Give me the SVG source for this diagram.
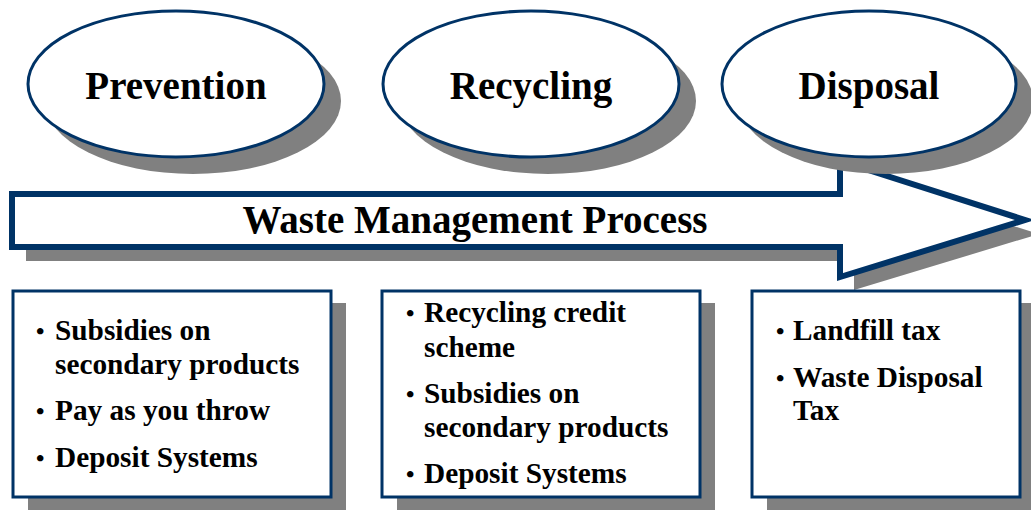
<svg xmlns="http://www.w3.org/2000/svg" width="1031" height="510" viewBox="0 0 1031 510">
<style>
.sh{fill:#808080;stroke:none}
.nd{fill:#fff;stroke:#003366;stroke-width:3}
.t{font-family:"Liberation Serif","Times New Roman",serif;font-weight:bold;fill:#000}
.h{font-size:39px;text-anchor:middle}
.b{font-size:29.3px}
.bu{font-size:24px}
</style>
<rect width="1031" height="510" fill="#fff"/>
<g id="arrow">
<path class="sh" d="M26,208 L854,208 L854,176 L1039,234 L854,290 L854,261 L26,261 Z"/>
<path d="M12,194 L840,194 L840,161 L1025,220 L840,277 L840,247 L12,247 Z" fill="#fff" stroke="#003366" stroke-width="6"/>
<text class="t h" x="475" y="233">Waste Management Process</text>
</g>
<g id="prevention">
<ellipse class="sh" cx="193" cy="101" rx="148" ry="73"/>
<ellipse class="nd" cx="176" cy="84" rx="148" ry="73"/>
<text class="t h" x="176" y="99">Prevention</text>
</g>
<g id="recycling">
<ellipse class="sh" cx="548" cy="101" rx="148" ry="73"/>
<ellipse class="nd" cx="531" cy="84" rx="148" ry="73"/>
<text class="t h" x="531" y="99">Recycling</text>
</g>
<g id="disposal">
<ellipse class="sh" cx="886" cy="101" rx="147" ry="73"/>
<ellipse class="nd" cx="869" cy="84" rx="147" ry="73"/>
<text class="t h" x="869" y="99">Disposal</text>
</g>
<g id="box-prevention">
<rect class="sh" x="28" y="303" width="318" height="207"/>
<rect class="nd" x="13" y="291" width="318" height="206"/>
<text class="t b"><tspan class="bu" x="36" y="339">•</tspan><tspan x="55" y="340">Subsidies on</tspan><tspan x="55" y="374">secondary products</tspan><tspan class="bu" x="36" y="419">•</tspan><tspan x="55" y="420">Pay as you throw</tspan><tspan class="bu" x="36" y="466">•</tspan><tspan x="55" y="467">Deposit Systems</tspan></text>
</g>
<g id="box-recycling">
<rect class="sh" x="397" y="303" width="318" height="207"/>
<rect class="nd" x="382" y="291" width="318" height="206"/>
<text class="t b"><tspan class="bu" x="406" y="321">•</tspan><tspan x="424" y="322">Recycling credit</tspan><tspan x="424" y="357">scheme</tspan><tspan class="bu" x="406" y="402">•</tspan><tspan x="424" y="403">Subsidies on</tspan><tspan x="424" y="437">secondary products</tspan><tspan class="bu" x="406" y="482">•</tspan><tspan x="424" y="483">Deposit Systems</tspan></text>
</g>
<g id="box-disposal">
<rect class="sh" x="767" y="303" width="268" height="207"/>
<rect class="nd" x="752" y="291" width="268" height="206"/>
<text class="t b"><tspan class="bu" x="776" y="339">•</tspan><tspan x="793" y="340">Landfill tax</tspan><tspan class="bu" x="776" y="386">•</tspan><tspan x="793" y="387">Waste Disposal</tspan><tspan x="793" y="420">Tax</tspan></text>
</g>
</svg>
